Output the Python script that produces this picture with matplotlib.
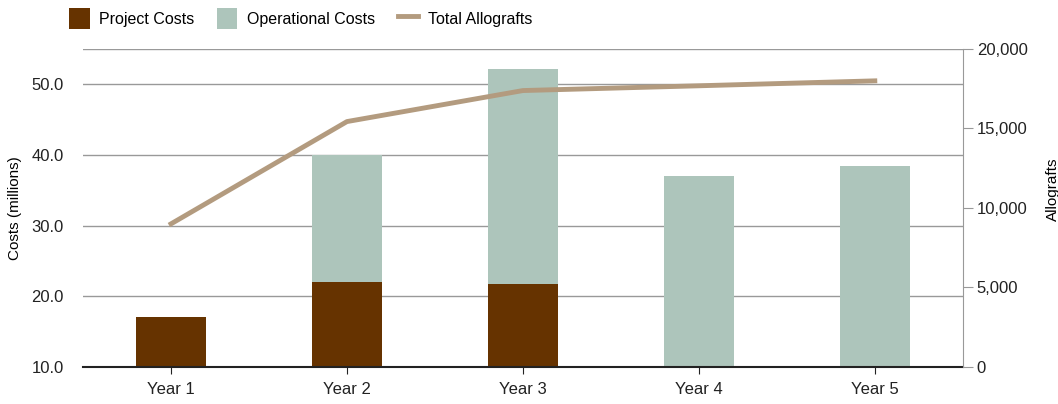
import matplotlib.pyplot as plt
import numpy as np

years = ['Year 1', 'Year 2', 'Year 3', 'Year 4', 'Year 5']
project_costs = [17.1, 22.0, 21.7, 0.0, 0.0]
operational_costs = [0.0, 18.0, 30.4, 37.0, 38.4]
total_allografts = [9000, 15430, 17380, 17680, 17990]

plt.rcParams['font.family'] = ['Liberation Sans', 'DejaVu Sans']
plt.rcParams['font.size'] = 12

c_proj = '#663300'
c_op = '#adc5bb'
c_line = '#b39b7f'

fig = plt.figure(figsize=(10.58, 4.04), dpi=100)
ax = fig.add_axes([0.0785, 0.0916, 0.8315, 0.7874])
x = np.arange(len(years))

ax.bar(x, project_costs, width=0.4, color=c_proj, label='Project Costs', zorder=2)
ax.bar(x, operational_costs, width=0.4, bottom=project_costs, color=c_op,
       label='Operational Costs', zorder=2)

ax.set_xlim(-0.5, 4.5)
ax.set_ylim(10, 55)
ax.set_yticks([10, 20, 30, 40, 50])
ax.set_yticklabels(['%.1f' % v for v in [10, 20, 30, 40, 50]])
ax.set_xticks(x)
ax.set_xticklabels(years)
ax.grid(axis='y', color='#999999', linewidth=1, zorder=0)
ax.axhline(55, color='#999999', linewidth=1, zorder=0)
for s in ['top', 'right', 'left']:
    ax.spines[s].set_visible(False)
ax.spines['bottom'].set_color('#222222')
ax.spines['bottom'].set_linewidth(1.5)
ax.tick_params(axis='y', length=0, pad=14, colors='#222222')
ax.tick_params(axis='x', length=5, color='#222222', colors='#222222', pad=6)
ax.set_ylabel('Costs (millions)', fontsize=11, labelpad=7)

ax2 = ax.twinx()
ax2.plot(x, total_allografts, color=c_line, linewidth=3.5, label='Total Allografts', zorder=3)
ax2.set_ylim(0, 20000)
ax2.set_yticks([0, 5000, 10000, 15000, 20000])
ax2.set_yticklabels(['0', '5,000', '10,000', '15,000', '20,000'])
for s in ['top', 'left', 'bottom']:
    ax2.spines[s].set_visible(False)
ax2.spines['right'].set_color('#999999')
ax2.tick_params(axis='y', length=7, color='#999999', colors='#222222', pad=3)
ax2.set_ylabel('Allografts', fontsize=11)
ax2.yaxis.set_label_coords(1.094, 0.56)

h1, l1 = ax.get_legend_handles_labels()
h2, l2 = ax2.get_legend_handles_labels()
fig.legend(h1 + h2, l1 + l2, loc='upper left', bbox_to_anchor=(0.065, 0.98), ncol=3,
           frameon=False, fontsize=11.5, borderpad=0, borderaxespad=0,
           handlelength=1.3, handleheight=1.6, columnspacing=1.4,
           handletextpad=0.6)

fig.savefig('out.png', dpi=100)
